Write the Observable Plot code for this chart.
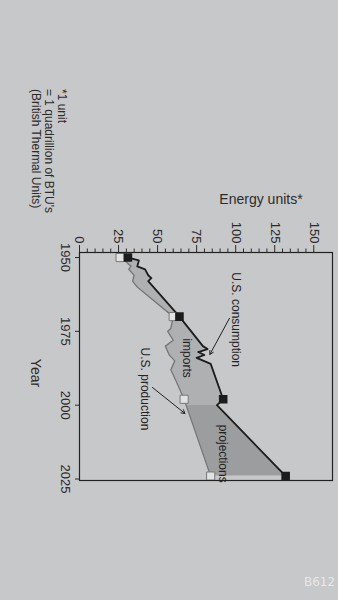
<!DOCTYPE html>
<html><head><meta charset="utf-8">
<script src="https://cdn.jsdelivr.net/npm/d3@7"></script>
<script src="https://cdn.jsdelivr.net/npm/@observablehq/plot@0.6"></script>
<style>
html,body{margin:0;padding:0;width:338px;height:600px;overflow:hidden;background:#c7c8ca;}
#rot{position:absolute;left:0;top:0;width:600px;height:338px;transform-origin:0 0;transform:translate(338px,0) rotate(90deg);font-family:"Liberation Sans",Arial,Helvetica,sans-serif;color:#2b2b2b;}
#chart{position:absolute;left:0;top:0;width:600px;height:338px;}
.lab{position:absolute;white-space:nowrap;}
#ylab{left:199px;top:77px;font-size:14px;transform:translate(-50%,-50%) rotate(-90deg);}
#xlab{left:373px;top:302px;font-size:14px;transform:translate(-50%,-50%);}
#note{left:89px;top:270px;font-size:12px;line-height:12.8px;}
#wm{position:absolute;left:304px;top:575px;font-family:"DejaVu Sans",sans-serif;font-size:12px;color:rgba(255,255,255,0.6);}
</style></head><body>
<div id="rot">
  <div id="chart"></div>
  <div class="lab" id="ylab">Energy units*</div>
  <div class="lab" id="xlab">Year</div>
  <div class="lab" id="note">*1 unit<br>= 1 quadrillion of BTU's<br>(British Thermal Units)</div>
</div>
<div id="wm">B612</div>
<script>
// U.S. consumption (energy units)
const consYears  = [1950, 1951, 1953, 1954, 1956, 1957, 1958, 1970, 1980, 1981, 1982, 1983, 1984, 1986, 1998, 2000, 2024];
const consValues = [31,   38,   37,   42,   44,   46,   44,   64,   79,   82,   76,   80,   75,   84,   92,   88,   132];
// U.S. production
const prodYears  = [1950, 1951, 1953, 1954, 1956, 1958, 1960, 1970, 1974, 1975, 1978, 1980, 1983, 1985, 1988, 1992, 1998, 2024];
const prodValues = [26,   29,   33,   31.5, 35,   34,   37,   60,   58.5, 56.5, 60,   55,   57.5, 61,   58.5, 62,   67,   84];
const markerYears = [1950, 1970, 1998, 2024];
const projectionStart = 2000;
const xTicks = [1950, 1975, 2000, 2025];
const yTicks = [0, 25, 50, 75, 100, 125, 150];
const yMinorTicks = d3.range(0, 151, 5).filter(v => v % 25 !== 0);
const annotationText  = ["U.S. consumption", "imports", "U.S. production", "projections"];
const annotationYear  = [1955, 1977.4, 1980.5, 2006.6];
const annotationValue = [100, 69, 41.6, 91.6];
const arrowFromYear  = [1970.6, 1994];
const arrowFromValue = [96, 46.7];
const arrowToYear    = [1982.8, 2002.8];
const arrowToValue   = [83.5, 67.5];

const consSeries = consYears.map((year, i) => ({year, value: consValues[i]}));
const prodSeries = prodYears.map((year, i) => ({year, value: prodValues[i]}));
const consAt = d3.scaleLinear(consYears, consValues);
const prodAt = d3.scaleLinear(prodYears, prodValues);
const allYears = Array.from(new Set([...consYears, ...prodYears])).sort((a, b) => a - b);
const rows = allYears.map(year => ({year, cons: consAt(year), prod: prodAt(year)}));
const annotations = annotationText.map((text, i) => ({text, year: annotationYear[i], value: annotationValue[i]}));
const arrows = arrowFromYear.map((x1, i) => ({x1, y1: arrowFromValue[i], x2: arrowToYear[i], y2: arrowToValue[i]}));

const chart = Plot.plot({
  width: 600, height: 338,
  marginLeft: 252, marginRight: 120, marginTop: 5, marginBottom: 80,
  style: {background: "transparent", fontFamily: '"Liberation Sans", Arial, sans-serif', fontSize: "13px", color: "#2b2b2b", overflow: "visible"},
  x: {domain: [1948.3, 2025.5]},
  y: {domain: [0, 162]},
  marks: [
    Plot.areaY(rows.filter(d => d.year <= projectionStart), {x: "year", y1: "prod", y2: "cons", fill: "#afb0b2"}),
    Plot.areaY(rows.filter(d => d.year >= projectionStart), {x: "year", y1: "prod", y2: "cons", fill: "#9c9d9f"}),
    Plot.line(prodSeries, {x: "year", y: "value", stroke: "#77787a", strokeWidth: 1.4}),
    Plot.line(consSeries, {x: "year", y: "value", stroke: "#1c1c1c", strokeWidth: 1.8}),
    Plot.dot(prodSeries.filter(d => markerYears.includes(d.year)), {x: "year", y: "value", symbol: "square", r: 4.6, fill: "#e2e2e2", stroke: "#77787a", strokeWidth: 1}),
    Plot.dot(consSeries.filter(d => markerYears.includes(d.year)), {x: "year", y: "value", symbol: "square", r: 4, fill: "#1c1c1c", stroke: "#1c1c1c"}),
    Plot.arrow(arrows, {x1: "x1", y1: "y1", x2: "x2", y2: "y2", stroke: "#222", strokeWidth: 1, headLength: 6}),
    Plot.text(annotations, {x: "year", y: "value", text: "text", textAnchor: "start", fontSize: 12, fill: "#222"}),
    Plot.axisY({ticks: yMinorTicks, tickSize: 3.5, tickFormat: () => "", label: null}),
    Plot.axisY({ticks: yTicks, tickSize: 7, tickPadding: 2, label: null, fontSize: 13}),
    Plot.axisX({ticks: xTicks, tickSize: 5, tickPadding: 4, tickFormat: d => String(d), label: null, fontSize: 13}),
    Plot.frame({stroke: "#222", strokeWidth: 1.2})
  ]
});
document.getElementById("chart").appendChild(chart);
</script>
</body></html>
